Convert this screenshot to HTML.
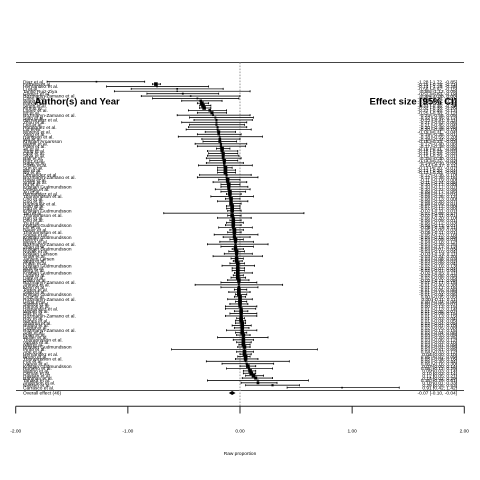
<!DOCTYPE html>
<html lang="en">
<head>
<meta charset="utf-8">
<title>Forest plot</title>
<style>
html,body{margin:0;padding:0;background:#fff;width:480px;height:480px;overflow:hidden}
svg{display:block}
text{font-family:"Liberation Sans",Arial,sans-serif;fill:#000}
</style>
</head>
<body>
<svg id="chart" xmlns="http://www.w3.org/2000/svg" width="480" height="480" viewBox="0 0 480 480"></svg>
<script>
const studies = ["Diaz et al.","Ferreira et al.","Hernandez et al.","Li et al.","Tarillo Ruiz-Ziya","Gomez et al.","Rozmaryn-Zamano et al.","Chen et al.","Wang et al.","Park et al.","Singh et al.","Kim et al.","Lopez et al.","Ito et al.","Rozmaryn-Zamano et al.","Sato et al.","Hernandez et al.","Zhou et al.","Lee et al.","Rodriguez et al.","Liu et al.","Moreno et al.","Yang et al.","Hansson et al.","Wu et al.","Kristjan Arnarsson","Martin et al.","Patel et al.","Ali et al.","Jung et al.","Ortiz et al.","Silva et al.","Hall et al.","Ruiz et al.","Nagy et al.","Costa et al.","Sun et al.","Ma et al.","Ng et al.","Fernandez et al.","Rozmaryn-Zamano et al.","Rossi et al.","Smith et al.","Hu et al.","Kristjan Gudmundsson","Ortega et al.","Xu et al.","Hernandez et al.","Thorarinsson et al.","Cho et al.","Guo et al.","Rodriguez et al.","Kato et al.","Gao et al.","Kristjan Gudmundsson","Tan et al.","Thorarinsson et al.","Han et al.","Ono et al.","Yu et al.","Kristjan Gudmundsson","Lin et al.","Bauer et al.","Thorarinsson et al.","Sousa et al.","Kristjan Gudmundsson","Reis et al.","Meyer et al.","Rozmaryn-Zamano et al.","Zhao et al.","Kristjan Gudmundsson","Novak et al.","Kristjan Larsson","Shah et al.","Jansen Larsen","Vega et al.","Pham et al.","Kristjan Gudmundsson","Mori et al.","Berg et al.","Kristjan Gudmundsson","Luna et al.","Dahl et al.","Diallo et al.","Rozmaryn-Zamano et al.","Ahmed et al.","Klein et al.","Torres et al.","Saito et al.","Kristjan Gudmundsson","Cruz et al.","Rozmaryn-Zamano et al.","Ueda et al.","Santos et al.","Ramos et al.","Hernandez et al.","Weber et al.","Das et al.","Rozmaryn-Zamano et al.","Roy et al.","Nunes et al.","Sharma et al.","Hoang et al.","Gupta et al.","Rozmaryn-Zamano et al.","Aoki et al.","Khan et al.","Muller et al.","Thorarinsson et al.","Vargas et al.","Ishii et al.","Kristjan Gudmundsson","Pinto et al.","Abe et al.","Hernandez et al.","Bruno et al.","Thorarinsson et al.","Fox et al.","Ivanov et al.","Kristjan Gudmundsson","Romero et al.","Marino et al.","Osman et al.","Hassan et al.","Rahman et al.","Tanaka et al.","Anderson et al.","Nielsen et al.","Carrasco et al."];
const est = [-1.28,-0.75,-0.74,-0.56,-0.56,-0.51,-0.44,-0.38,-0.35,-0.34,-0.33,-0.32,-0.27,-0.25,-0.24,-0.22,-0.21,-0.21,-0.21,-0.20,-0.20,-0.19,-0.19,-0.18,-0.18,-0.18,-0.17,-0.17,-0.16,-0.16,-0.15,-0.15,-0.15,-0.14,-0.14,-0.14,-0.13,-0.13,-0.13,-0.12,-0.12,-0.11,-0.11,-0.10,-0.10,-0.10,-0.09,-0.09,-0.09,-0.08,-0.08,-0.08,-0.07,-0.07,-0.07,-0.07,-0.07,-0.06,-0.06,-0.06,-0.06,-0.06,-0.05,-0.05,-0.05,-0.05,-0.04,-0.04,-0.04,-0.04,-0.04,-0.03,-0.03,-0.03,-0.03,-0.03,-0.02,-0.02,-0.02,-0.02,-0.02,-0.02,-0.02,-0.01,-0.01,-0.01,-0.01,-0.01,-0.01,-0.01,0.00,0.00,0.00,0.00,0.00,0.01,0.01,0.01,0.01,0.01,0.01,0.02,0.02,0.02,0.02,0.02,0.03,0.03,0.03,0.03,0.03,0.04,0.04,0.04,0.04,0.05,0.05,0.05,0.06,0.07,0.08,0.09,0.10,0.12,0.14,0.16,0.16,0.29,0.91];
const lo = [-1.72,-0.78,-1.19,-0.97,-1.12,-0.83,-0.88,-0.78,-0.52,-0.38,-0.36,-0.36,-0.46,-0.38,-0.56,-0.45,-0.41,-0.52,-0.45,-0.46,-0.48,-0.31,-0.38,-0.55,-0.34,-0.33,-0.40,-0.38,-0.21,-0.29,-0.28,-0.29,-0.30,-0.27,-0.30,-0.37,-0.20,-0.20,-0.20,-0.36,-0.38,-0.19,-0.24,-0.17,-0.17,-0.22,-0.17,-0.12,-0.26,-0.13,-0.20,-0.09,-0.12,-0.12,-0.11,-0.68,-0.11,-0.20,-0.09,-0.12,-0.13,-0.19,-0.09,-0.11,-0.23,-0.15,-0.09,-0.18,-0.29,-0.17,-0.07,-0.10,-0.14,-0.24,-0.08,-0.06,-0.09,-0.16,-0.07,-0.07,-0.05,-0.06,-0.08,-0.11,-0.17,-0.40,-0.17,-0.05,-0.10,-0.04,-0.05,-0.11,-0.04,-0.09,-0.13,-0.13,-0.05,-0.09,-0.13,-0.03,-0.04,-0.04,-0.07,-0.05,-0.12,-0.04,-0.03,-0.20,-0.06,-0.03,-0.01,-0.02,-0.61,-0.03,0.00,-0.02,-0.04,-0.30,-0.16,0.00,-0.12,0.03,0.03,0.05,0.02,-0.29,0.01,0.05,0.42];
const hi = [-0.85,-0.71,-0.28,-0.15,0.09,-0.19,0.00,-0.01,-0.16,-0.28,-0.26,-0.26,-0.12,-0.12,0.09,0.12,0.11,0.06,0.04,0.06,0.10,-0.04,0.01,0.20,0.00,-0.03,0.06,0.05,-0.09,-0.02,-0.02,-0.01,0.01,-0.02,0.03,0.11,-0.07,-0.04,-0.04,0.10,0.16,0.00,0.06,0.00,0.07,0.09,0.05,0.01,0.12,0.00,0.07,0.01,0.00,0.00,0.01,0.57,0.01,0.10,0.01,0.03,0.01,0.11,0.03,0.01,0.16,0.09,0.03,0.12,0.25,0.12,0.03,0.04,0.11,0.20,0.03,0.02,0.04,0.13,0.04,0.04,0.11,0.03,0.05,0.08,0.15,0.38,0.16,0.06,0.09,0.06,0.05,0.11,0.06,0.07,0.15,0.14,0.07,0.15,0.15,0.04,0.05,0.05,0.10,0.08,0.15,0.06,0.09,0.25,0.12,0.10,0.09,0.09,0.69,0.12,0.10,0.09,0.16,0.44,0.30,0.14,0.29,0.14,0.14,0.21,0.29,0.61,0.33,0.53,1.42];
const ticks = [-2,-1,0,1,2];
const overallLabel = "Overall effect (46)";
const overall = [-0.07,-0.10,-0.04];

const NS = "http://www.w3.org/2000/svg";
const svg = document.getElementById("chart");
const xs = v => 240 + v * 112.15;
const ys = i => 81.7 + i * 2.39;
const fmt = v => v.toFixed(2);

function line(x1, y1, x2, y2, stroke, w, parent) {
  const l = document.createElementNS(NS, "line");
  l.setAttribute("x1", x1);
  l.setAttribute("y1", y1);
  l.setAttribute("x2", x2);
  l.setAttribute("y2", y2);
  l.setAttribute("stroke", stroke);
  l.setAttribute("stroke-width", w);
  (parent || svg).appendChild(l);
  return l;
}
function text(x, y, str, size, anchor, weight) {
  const t = document.createElementNS(NS, "text");
  t.setAttribute("x", x);
  t.setAttribute("y", y);
  t.setAttribute("font-size", size);
  t.setAttribute("text-anchor", anchor || "start");
  if (weight) t.setAttribute("font-weight", weight);
  t.textContent = str;
  svg.appendChild(t);
  return t;
}

const topRule = line(16, 62.5, 464, 62.5, "#444", 1);


const bottomRule = line(16, 390.5, 464, 390.5, "#444", 1);


const zeroLine = line(xs(0), 62.5, xs(0), 406, "#999", 1);
zeroLine.setAttribute("stroke-dasharray", "1.6 1.4");



studies.forEach((name, i) => {
  const y = ys(i);
  const g = document.createElementNS(NS, "g");
  
  
  svg.appendChild(g);
  line(xs(lo[i]), y, xs(hi[i]), y, "#111", 0.85, g);
  line(xs(lo[i]), y - 1, xs(lo[i]), y + 1, "#000", 0.85, g);
  line(xs(hi[i]), y - 1, xs(hi[i]), y + 1, "#000", 0.85, g);
  const s = Math.max(1.3, Math.min(3.6, 1 + 0.55 / Math.max(0.1, hi[i] - lo[i])));
  const r = document.createElementNS(NS, "rect");
  r.setAttribute("x", xs(est[i]) - s / 2);
  r.setAttribute("y", y - s / 2);
  r.setAttribute("width", s);
  r.setAttribute("height", s);
  r.setAttribute("fill", "#000");
  
  
  g.appendChild(r);
  const lab = text(23, y + 1.7, name, 4.8);
  
  
  const val = text(457, y + 1.7, fmt(est[i]) + " [" + fmt(lo[i]) + ", " + fmt(hi[i]) + "]", 4.8, "end");
  
  
});

const headL = text(34.5, 104.3, "Author(s) and Year", 9.55, "start", "bold");


const headR = text(457, 104.3, "Effect size [95% CI]", 9.55, "end", "bold");



const oLab = text(23, 394.6, overallLabel, 4.8);


const oVal = text(457, 394.6, fmt(overall[0]) + " [" + fmt(overall[1]) + ", " + fmt(overall[2]) + "]", 4.8, "end");


const dia = document.createElementNS(NS, "polygon");
dia.setAttribute("points", [xs(overall[1]) + ",393", xs(overall[0]) + ",391", xs(overall[2]) + ",393", xs(overall[0]) + ",395"].join(" "));
dia.setAttribute("fill", "#000");


svg.appendChild(dia);

const axis = line(xs(ticks[0]), 406.3, xs(ticks[ticks.length - 1]), 406.3, "#222", 1);


ticks.forEach(v => {
  const tk = line(xs(v), 406.3, xs(v), 413.5, "#222", 1);
  
  
  const tl = text(xs(v), 432.3, fmt(v), 4.8, "middle");
  
  
});
const xTitle = text(240, 454.8, "Raw proportion", 4.8, "middle");


</script>
</body>
</html>
